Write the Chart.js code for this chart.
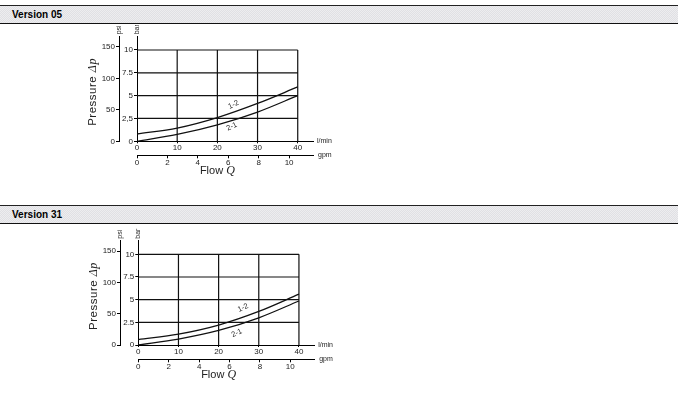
<!DOCTYPE html>
<html>
<head>
<meta charset="utf-8">
<script src="https://cdn.jsdelivr.net/npm/chart.js@4.4.0/dist/chart.umd.min.js"></script>
<style>
  html, body { margin: 0; padding: 0; background: #fff; width: 680px; height: 395px; overflow: hidden; font-family: "Liberation Sans", Arial, sans-serif; }
  .head { position: absolute; left: 0; width: 678px; height: 17px; border-top: 1px solid #222; border-bottom: 1px solid #111;
          background-color: #e6e6e8; background-image: repeating-conic-gradient(#e0e0e4 0 25%, #ededef 0 50%); background-size: 2px 2px; }
  .head span { position: absolute; left: 12px; top: 3px; font-weight: bold; font-size: 10px; color: #000; }
  canvas { position: absolute; left: 0; }
</style>
</head>
<body>
<div class="head" style="top:5px"><span>Version 05</span></div>
<div class="head" style="top:205px"><span>Version 31</span></div>
<canvas id="c05" width="345" height="170" style="top:25px"></canvas>
<canvas id="c31" width="345" height="167" style="top:228px"></canvas>
<script>
// ---- data (flow in l/min, pressure drop in bar) ----
const flow = [0, 10, 20, 30, 40];
const v05_12 = [0.8, 1.45, 2.6, 4.15, 5.95];
const v05_21 = [0, 0.75, 1.8, 3.2, 5.0];
const v31_12 = [0.6, 1.2, 2.2, 3.7, 5.6];
const v31_21 = [0, 0.65, 1.6, 3.0, 4.85];
const curveNames = ["1-2", "2-1"];

// ---- tick values / labels ----
const flowTicks = [0, 10, 20, 30, 40];
const gpmTicks = [0, 2, 4, 6, 8, 10];
const barTicks = [0, 2.5, 5, 7.5, 10];
const psiTicks = [0, 50, 100, 150];
const barLabels05 = ["0", "2,5", "5", "7.5", "10"];
const barLabels31 = ["0", "2.5", "5", "7.5", "10"];

const X_MAX = 43.8;      // flow axes run on past 40
const BAR_MAX = 11.5;    // bar axis runs on past 10
const L_PER_GAL = 3.785;
const PSI_PER_BAR = 14.5038;

const tickFont = { family: "Liberation Sans", size: 8 };
const INK = "#222";

function fixedTicks(vals) {
  return (scale) => { scale.ticks = vals.map(v => ({ value: v })); };
}

// grid only inside the 0..40 / 0..10 box
const boxGrid = {
  id: "boxGrid",
  beforeDatasetsDraw(chart) {
    const { ctx, scales: { x, y } } = chart;
    const x0 = x.getPixelForValue(0), x1 = x.getPixelForValue(40);
    const y0 = y.getPixelForValue(0), y1 = y.getPixelForValue(10);
    ctx.save();
    ctx.strokeStyle = "#111";
    ctx.lineWidth = 1.2;
    ctx.beginPath();
    flowTicks.slice(1).forEach(v => {
      const px = x.getPixelForValue(v);
      ctx.moveTo(px, y0); ctx.lineTo(px, y1);
    });
    barTicks.slice(1).forEach(v => {
      const py = y.getPixelForValue(v);
      ctx.moveTo(x0, py); ctx.lineTo(x1, py);
    });
    ctx.stroke();
    ctx.restore();
  }
};

function mixedText(ctx, parts, x, y, angle, spacing) {
  ctx.save();
  ctx.translate(x, y);
  ctx.rotate(angle);
  ctx.textAlign = "left";
  ctx.textBaseline = "middle";
  ctx.letterSpacing = spacing || "0px";
  let total = 0;
  parts.forEach(([t, f]) => { ctx.font = f; total += ctx.measureText(t).width; });
  let cx = -total / 2;
  parts.forEach(([t, f]) => { ctx.font = f; ctx.fillText(t, cx, 0); cx += ctx.measureText(t).width; });
  ctx.restore();
}

// unit labels, axis titles, curve names
const labels = {
  id: "labels",
  afterDraw(chart, args, opts) {
    const { ctx, chartArea, scales } = chart;
    const { x, y, gpm, psi } = scales;
    ctx.save();
    ctx.fillStyle = INK;
    ctx.font = '7px "Liberation Sans"';
    ctx.textAlign = "left";
    ctx.textBaseline = "middle";
    ctx.fillText("l/min", x.right + 4, x.top);
    ctx.fillText("gpm", gpm.right + 5, gpm.top);

    [["bar", y.right], ["psi", psi.right]].forEach(([t, px]) => {
      ctx.save();
      ctx.translate(px, chartArea.top - 2);
      ctx.rotate(-Math.PI / 2);
      ctx.fillText(t, 0, 0);
      ctx.restore();
    });

    mixedText(ctx, [["Pressure ", '11.5px "Liberation Sans"'], ["\u0394p", 'italic 12px "Liberation Serif"']],
      psi.right - 26, y.getPixelForValue(5.4), -Math.PI / 2, "0.5px");
    mixedText(ctx, [["Flow ", '11px "Liberation Sans"'], ["Q", 'italic 12px "Liberation Serif"']],
      x.getPixelForValue(20), gpm.bottom + 4, 0);

    ctx.font = '7.5px "Liberation Sans"';
    opts.names.forEach(([t, fx, fy]) => {
      ctx.save();
      ctx.translate(x.getPixelForValue(fx), y.getPixelForValue(fy));
      ctx.rotate(-25 * Math.PI / 180);
      ctx.textAlign = "center";
      ctx.fillText(t, 0, 0);
      ctx.restore();
    });
    ctx.restore();
  }
};

function makeChart(id, s12, s21, barLabels, L) {
  const line = (vals, name) => ({
    label: name,
    data: flow.map((f, i) => ({ x: f, y: vals[i] })),
    borderColor: "#111",
    borderWidth: 1.3,
    pointRadius: 0,
    cubicInterpolationMode: "monotone",
    fill: false,
    xAxisID: "x",
    yAxisID: "y",
  });
  const axisGrid = (len) => ({ display: true, drawOnChartArea: false, tickLength: len, color: "#000" });
  const ticks = (extra) => Object.assign({ font: tickFont, color: INK, padding: 1, autoSkip: false, maxRotation: 0 }, extra);

  return new Chart(document.getElementById(id).getContext("2d"), {
    type: "line",
    data: { datasets: [line(s12, curveNames[0]), line(s21, curveNames[1])] },
    options: {
      responsive: false,
      animation: false,
      layout: { padding: { left: 0, top: L.top, right: L.right, bottom: L.bottom } },
      plugins: {
        legend: { display: false },
        tooltip: { enabled: false },
        labels: { names: L.names },
      },
      scales: {
        x: {
          type: "linear", position: "bottom", min: 0, max: X_MAX, weight: 0,
          afterBuildTicks: fixedTicks(flowTicks),
          afterFit: (s) => { s.height = L.xH; },
          grid: axisGrid(2), border: { color: "#000", width: 1 },
          ticks: ticks({ padding: 0 }),
        },
        gpm: {
          type: "linear", position: "bottom", min: 0, max: X_MAX / L_PER_GAL, weight: 1,
          afterBuildTicks: fixedTicks(gpmTicks),
          afterFit: (s) => { s.height = 12; },
          grid: axisGrid(3), border: { color: "#000", width: 1 },
          ticks: ticks({ padding: 0 }),
        },
        y: {
          type: "linear", position: "left", min: 0, max: BAR_MAX, weight: 0,
          afterBuildTicks: fixedTicks(barTicks),
          afterFit: (s) => { s.width = L.barW; },
          grid: axisGrid(3), border: { color: "#000", width: 1 },
          ticks: ticks({ callback: (v, i) => barLabels[i] }),
        },
        psi: {
          type: "linear", position: "left", min: 0, max: BAR_MAX * PSI_PER_BAR, weight: 1,
          afterBuildTicks: fixedTicks(psiTicks),
          afterFit: (s) => { s.width = L.psiW; },
          grid: axisGrid(3), border: { color: "#000", width: 1 },
          ticks: ticks({}),
        },
      },
    },
    plugins: [boxGrid, labels],
  });
}

makeChart("c05", v05_12, v05_21, barLabels05, {
  top: 11.3, right: 32, bottom: 27.7, xH: 14, psiW: 119, barW: 18,
  names: [[curveNames[0], 24, 4.0], [curveNames[1], 23.6, 1.6]],
});
makeChart("c31", v31_12, v31_21, barLabels31, {
  top: 12.7, right: 30.8, bottom: 23.7, xH: 14.3, psiW: 120, barW: 18.3,
  names: [[curveNames[0], 26.1, 4.1], [curveNames[1], 24.5, 1.3]],
});
</script>
</body>
</html>
